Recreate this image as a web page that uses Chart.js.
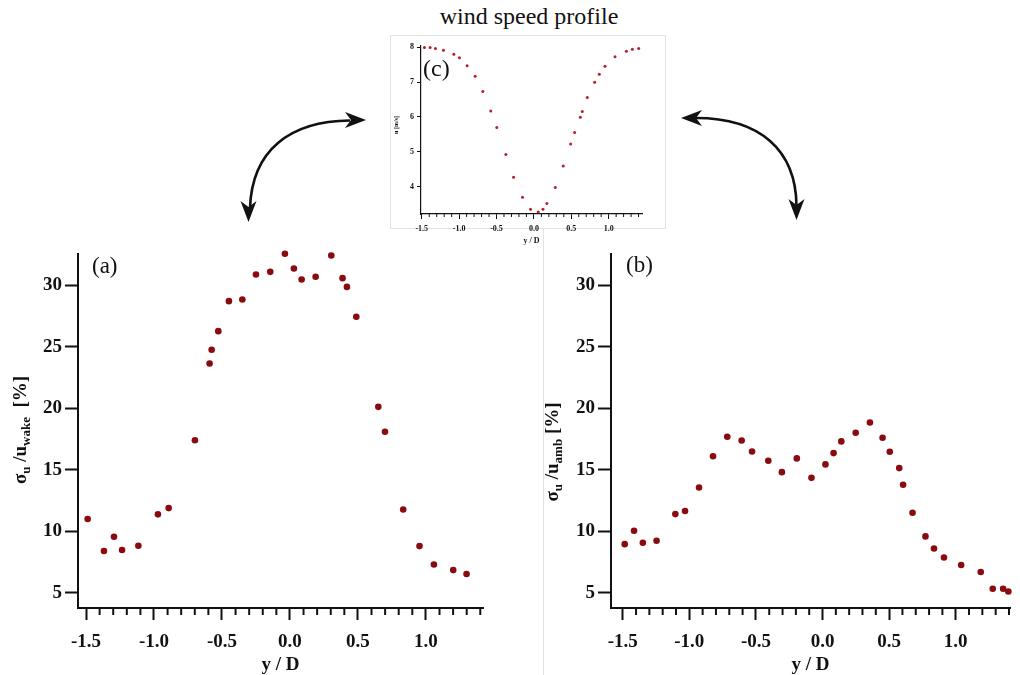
<!DOCTYPE html>
<html>
<head>
<meta charset="utf-8">
<script src="https://cdn.jsdelivr.net/npm/chart.js"></script>
<style>
  body { margin: 0; background: #fff; width: 1020px; height: 675px; overflow: hidden; position: relative; }
  canvas { position: absolute; }
  #title { position: absolute; left: 429px; width: 200px; top: 3px; text-align: center;
           font: 24px "Liberation Serif", "Times New Roman", serif; line-height: 26px; color: #111; }
</style>
</head>
<body>
<div id="title">wind speed profile</div>
<canvas id="deco" width="1020" height="675" style="left:0;top:0"></canvas>
<canvas id="chartC" width="275" height="215" style="left:390px;top:35px"></canvas>
<canvas id="chartA" width="520" height="435" style="left:0;top:240px"></canvas>
<canvas id="chartB" width="480" height="435" style="left:540px;top:240px"></canvas>
<canvas id="arrows" width="1020" height="675" style="left:0;top:0;pointer-events:none"></canvas>
<script>
// (a) turbulence intensity relative to wake speed
const posA = [-1.488, -1.368, -1.294, -1.235, -1.115, -0.971, -0.892, -0.699, -0.591, -0.576,
              -0.527, -0.449, -0.350, -0.250, -0.145, -0.037, 0.029, 0.086, 0.189, 0.304,
              0.387, 0.419, 0.488, 0.650, 0.699, 0.833, 0.953, 1.059, 1.201, 1.299];
const tiWake = [10.99, 8.39, 9.55, 8.47, 8.82, 11.37, 11.88, 17.4, 23.63, 24.75,
                26.26, 28.7, 28.84, 30.87, 31.08, 32.55, 31.35, 30.46, 30.68, 32.41,
                30.57, 29.86, 27.43, 20.11, 18.08, 11.77, 8.79, 7.30, 6.84, 6.52];

// (b) turbulence intensity relative to ambient speed
const posB = [-1.485, -1.415, -1.349, -1.246, -1.105, -1.032, -0.927, -0.822, -0.715, -0.607,
              -0.529, -0.407, -0.305, -0.193, -0.083, 0.022, 0.083, 0.141, 0.249, 0.356,
              0.451, 0.505, 0.576, 0.605, 0.676, 0.773, 0.837, 0.912, 1.041, 1.188,
              1.278, 1.356, 1.395];
const tiAmb = [8.95, 10.04, 9.06, 9.23, 11.39, 11.64, 13.56, 16.1, 17.68, 17.38,
               16.48, 15.73, 14.8, 15.92, 14.34, 15.43, 16.35, 17.3, 18.0, 18.84,
               17.6, 16.46, 15.13, 13.78, 11.5, 9.58, 8.6, 7.87, 7.25, 6.68,
               5.33, 5.33, 5.1];

// (c) wind speed profile
const posC = [-1.464, -1.388, -1.317, -1.21, -1.071, -0.996, -0.893, -0.786, -0.683, -0.576,
              -0.496, -0.375, -0.272, -0.152, -0.045, 0.058, 0.121, 0.174, 0.286, 0.393,
              0.491, 0.545, 0.621, 0.647, 0.714, 0.813, 0.875, 0.951, 1.085, 1.237,
              1.317, 1.402];
const speedC = [8.0, 8.0, 7.97, 7.92, 7.8, 7.70, 7.47, 7.17, 6.73, 6.17,
                5.70, 4.92, 4.27, 3.69, 3.35, 3.27, 3.35, 3.51, 3.97, 4.59,
                5.22, 5.55, 5.99, 6.16, 6.56, 7.0, 7.23, 7.46, 7.73, 7.89,
                7.95, 7.97];

const SERIF = '"Liberation Serif", "Times New Roman", serif';
const INK = '#111';

function isMajor(v, step) {
    const r = v / step;
    return Math.abs(r - Math.round(r)) < 1e-6;
}

// kleine tussenstreepjes op de x-as
const minorTicks = {
    id: 'minorTicks',
    afterDraw(chart, args, opts) {
        const sx = chart.scales.x, ctx = chart.ctx;
        ctx.save();
        ctx.strokeStyle = INK;
        ctx.lineWidth = opts.width;
        sx.ticks.forEach(t => {
            if (isMajor(t.value, 0.5)) return;
            const px = sx.getPixelForValue(t.value);
            ctx.beginPath();
            ctx.moveTo(px, sx.top);
            ctx.lineTo(px, sx.top + opts.len);
            ctx.stroke();
        });
        ctx.restore();
    }
};

// as-titel met subscripts + paneel-label
const extraText = {
    id: 'extraText',
    afterDraw(chart, args, opts) {
        const ctx = chart.ctx;
        ctx.save();
        ctx.fillStyle = INK;
        ctx.textBaseline = 'middle';
        if (opts.ytitle) {
            const t = opts.ytitle;
            ctx.translate(t.x, t.y);
            ctx.rotate(-Math.PI / 2);
            let w = 0;
            t.runs.forEach(r => { ctx.font = r.font; w += ctx.measureText(r.text).width; });
            let cx = -w / 2;
            t.runs.forEach(r => {
                ctx.font = r.font;
                ctx.fillText(r.text, cx, r.dy || 0);
                cx += ctx.measureText(r.text).width;
            });
            ctx.setTransform(1, 0, 0, 1, 0, 0);
        }
        if (opts.label) {
            ctx.font = opts.label.font;
            ctx.textAlign = 'left';
            ctx.fillText(opts.label.text, opts.label.x, opts.label.y);
        }
        ctx.restore();
    }
};

function makeChart(id, xs, ys, o) {
    return new Chart(document.getElementById(id), {
        type: 'scatter',
        data: {
            datasets: [{
                data: xs.map((x, i) => ({ x: x, y: ys[i] })),
                backgroundColor: o.color,
                borderWidth: 0,
                pointRadius: o.r,
                clip: false
            }]
        },
        options: {
            responsive: false,
            animation: false,
            events: [],
            layout: { padding: o.pad },
            plugins: {
                legend: { display: false },
                tooltip: { enabled: false },
                minorTicks: { len: o.minorLen, width: o.tw },
                extraText: { ytitle: o.ytitle, label: o.label }
            },
            scales: {
                x: {
                    type: 'linear',
                    min: o.xmin, max: o.xmax,
                    afterFit: s => { s.height = o.xh; },
                    border: { display: true, color: INK, width: o.bw },
                    grid: {
                        drawOnChartArea: false,
                        tickLength: o.xtl,
                        tickWidth: o.tw,
                        tickColor: c => (c.tick && isMajor(c.tick.value, 0.5)) ? INK : 'rgba(0,0,0,0)'
                    },
                    ticks: {
                        stepSize: 0.1,
                        maxTicksLimit: 200,
                        includeBounds: false,
                        autoSkip: false,
                        maxRotation: 0,
                        padding: o.xpad,
                        color: INK,
                        font: { family: SERIF, size: o.tickSize, weight: 'bold' },
                        callback: v => isMajor(v, 0.5) ? (Math.abs(v) < 1e-9 ? '0.0' : v.toFixed(1)) : ''
                    },
                    title: {
                        display: true,
                        text: 'y / D',
                        color: INK,
                        padding: { top: 0, bottom: o.xtitlePad },
                        font: { family: SERIF, size: o.titleSize, weight: 'bold', lineHeight: 1 }
                    }
                },
                y: {
                    type: 'linear',
                    min: o.ymin, max: o.ymax,
                    afterFit: s => { s.width = o.yw; },
                    border: { display: true, color: INK, width: o.bw },
                    grid: { drawOnChartArea: false, tickLength: o.ytl, tickWidth: o.tw, tickColor: INK },
                    ticks: {
                        stepSize: o.ystep,
                        includeBounds: false,
                        padding: o.ypad,
                        color: INK,
                        font: { family: SERIF, size: o.tickSize, weight: 'bold' }
                    }
                }
            }
        },
        plugins: [minorTicks, extraText]
    });
}

const bold = (px) => `bold ${px}px ${SERIF}`;

makeChart('chartA', posA, tiWake, {
    color: '#8a0b0f', r: 3.3,
    pad: { left: 0, top: 14, right: 37, bottom: 0 },
    xmin: -1.559, xmax: 1.42, ymin: 3.76, ymax: 32.5,
    xh: 67, yw: 78, xtl: 12, ytl: 13, minorLen: 7, tw: 2, bw: 2,
    xpad: 11, ypad: 3, ystep: 5, tickSize: 19, titleSize: 19, xtitlePad: 0,
    ytitle: { x: 21, y: 190, runs: [
        { text: 'σ', font: bold(19) },
        { text: 'u', font: bold(13), dy: 6 },
        { text: ' /u', font: bold(19) },
        { text: 'wake', font: bold(13), dy: 6 },
        { text: '  [%]', font: bold(19) }
    ] },
    label: { text: '(a)', x: 92, y: 27, font: `23px ${SERIF}` }
});

makeChart('chartB', posB, tiAmb, {
    color: '#8a0b0f', r: 3.3,
    pad: { left: 0, top: 14, right: 0, bottom: 0 },
    xmin: -1.588, xmax: 1.408, ymin: 3.76, ymax: 32.5,
    xh: 67, yw: 71, xtl: 12, ytl: 13, minorLen: 7, tw: 2, bw: 2,
    xpad: 11, ypad: 3, ystep: 5, tickSize: 19, titleSize: 19, xtitlePad: 0,
    ytitle: { x: 13, y: 212, runs: [
        { text: 'σ', font: bold(19) },
        { text: 'u', font: bold(13), dy: 6 },
        { text: ' /u', font: bold(19) },
        { text: 'amb', font: bold(13), dy: 6 },
        { text: ' [%]', font: bold(19) }
    ] },
    label: { text: '(b)', x: 86, y: 26, font: `23px ${SERIF}` }
});

makeChart('chartC', posC, speedC, {
    color: '#b3202a', r: 1.5,
    pad: { left: 0, top: 11, right: 23, bottom: 0 },
    xmin: -1.51, xmax: 1.446, ymin: 3.21, ymax: 8.04,
    xh: 36, yw: 31, xtl: 5, ytl: 4, minorLen: 3, tw: 1, bw: 1.2,
    xpad: 5, ypad: 3, ystep: 1, tickSize: 8, titleSize: 8, xtitlePad: 5,
    ytitle: { x: 6, y: 90, runs: [ { text: 'u [m/s]', font: bold(6) } ] },
    label: { text: '(c)', x: 33, y: 35, font: `24px ${SERIF}` }
});

// kader rond de inzet en scheidingslijn tussen (a) en (b)
const deco = document.getElementById('deco').getContext('2d');
deco.strokeStyle = '#e2e2e2';
deco.lineWidth = 1;
deco.strokeRect(390.5, 35.5, 275, 193);
deco.beginPath();
deco.moveTo(543.5, 228);
deco.lineTo(543.5, 675);
deco.stroke();

// gebogen dubbele pijlen
const ac = document.getElementById('arrows').getContext('2d');
function arrowHead(tx, ty, ang) {
    ac.save();
    ac.translate(tx, ty);
    ac.rotate(ang);
    ac.beginPath();
    ac.moveTo(0, 0);
    ac.lineTo(-21, -8);
    ac.lineTo(-15, 0);
    ac.lineTo(-21, 8);
    ac.closePath();
    ac.fill();
    ac.restore();
}
function curvedArrow(p0, c1, c2, p3, h0, h1) {
    ac.strokeStyle = INK;
    ac.fillStyle = INK;
    ac.lineWidth = 2.6;
    ac.beginPath();
    ac.moveTo(p0[0], p0[1]);
    ac.bezierCurveTo(c1[0], c1[1], c2[0], c2[1], p3[0], p3[1]);
    ac.stroke();
    arrowHead(h0[0], h0[1], h0[2]);
    arrowHead(h1[0], h1[1], h1[2]);
}
curvedArrow([350, 120.5], [290, 121], [252, 150], [250, 208],
            [366, 120, 0], [248.5, 222, Math.PI / 2]);
curvedArrow([696, 118], [760, 118], [796, 150], [796.5, 206],
            [681, 118, Math.PI], [796.5, 220, Math.PI / 2]);
</script>
</body>
</html>
